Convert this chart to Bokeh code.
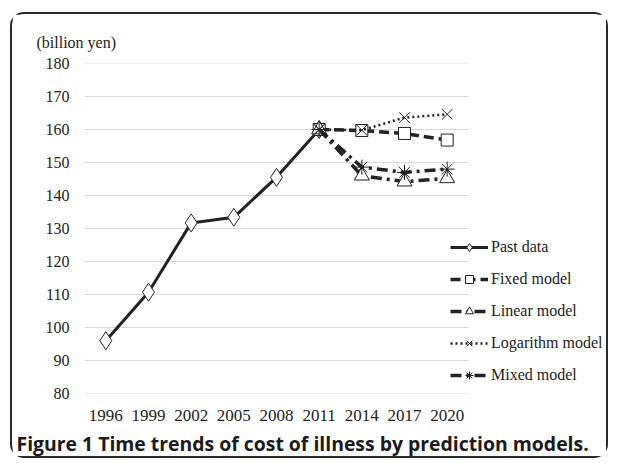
from bokeh.plotting import figure
from bokeh.models import Range1d, Legend, LegendItem, Title, FixedTicker
from bokeh.embed import file_html
from bokeh.resources import INLINE

years = ["1996", "1999", "2002", "2005", "2008", "2011", "2014", "2017", "2020"]
past_years = ["1996", "1999", "2002", "2005", "2008", "2011"]
past_values = [96.0, 110.7, 131.7, 133.4, 145.5, 160.0]
proj_years = ["2011", "2014", "2017", "2020"]
fixed_values = [160.0, 159.7, 158.8, 156.8]
linear_values = [160.0, 146.0, 144.2, 145.2]
log_values = [160.0, 159.8, 163.6, 164.6]
mixed_values = [160.0, 148.6, 147.0, 148.0]
y_ticks = [80, 90, 100, 110, 120, 130, 140, 150, 160, 170, 180]

SERIF = "Liberation Serif"
INK = "#222222"

W, H = 598, 446
BL, BR, BT, BB = 72, 0, 49, 67
frame_w = W - BL - BR
px_per_cat = 384 / len(years)
x_start = -0.5
x_end = x_start + frame_w / px_per_cat

def xi(labels):
    return [years.index(v) for v in labels]

p = figure(x_range=Range1d(x_start, x_end), y_range=Range1d(80, 180), width=W, height=H,
           output_backend="svg", toolbar_location=None,
           min_border_left=BL, min_border_right=BR, min_border_top=BT, min_border_bottom=BB)
p.styles = {"border": "2px solid #2a2a2a", "border-radius": "14px",
            "margin-left": "10px", "margin-top": "12px"}
p.outline_line_color = None
p.xgrid.grid_line_color = None
p.ygrid.grid_line_color = None

# horizontal gridlines limited to the category area
p.segment(x0=[x_start] * len(y_ticks), x1=[len(years) - 0.5] * len(y_ticks),
          y0=y_ticks, y1=y_ticks, line_color="#d9d9d9", line_width=1)

p.yaxis.ticker = FixedTicker(ticks=y_ticks)
p.xaxis.ticker = FixedTicker(ticks=list(range(len(years))))
p.xaxis.major_label_overrides = {i: y for i, y in enumerate(years)}
for ax in (p.xaxis[0], p.yaxis[0]):
    ax.axis_line_color = None
    ax.major_tick_line_color = None
    ax.minor_tick_line_color = None
    ax.major_tick_out = 0
    ax.major_tick_in = 0
    ax.minor_tick_out = 0
    ax.major_label_text_font = SERIF
    ax.major_label_text_color = INK
p.yaxis.major_label_text_font_size = "16px"
p.xaxis.major_label_text_font_size = "17px"
p.yaxis.major_label_standoff = 15
p.xaxis.major_label_standoff = 16

lw = 3
r_past_l = p.line(xi(past_years), past_values, line_color=INK, line_width=lw)
r_past_m = p.scatter(xi(past_years), past_values, marker="diamond", size=18,
                     fill_color="white", line_color=INK, line_width=1)
r_fix_l = p.line(xi(proj_years), fixed_values, line_color=INK, line_width=3.5, line_dash="10 5")
r_fix_m = p.scatter(xi(proj_years), fixed_values, marker="square", size=12,
                    fill_color="white", line_color=INK, line_width=1)
r_lin_l = p.line(xi(proj_years), linear_values, line_color=INK, line_width=3.5, line_dash="11 5 3 5")
r_lin_m = p.scatter(xi(proj_years), linear_values, marker="triangle", size=15,
                    fill_color="white", line_color=INK, line_width=1)
r_log_l = p.line(xi(proj_years), log_values, line_color=INK, line_width=2.5, line_dash="2 3")
r_log_m = p.scatter(xi(proj_years), log_values, marker="x", size=15,
                    line_color=INK, line_width=1)
r_mix_l = p.line(xi(proj_years), mixed_values, line_color=INK, line_width=3.5, line_dash="11 5 3 5")
r_mix_m = p.scatter(xi(proj_years), mixed_values, marker="asterisk", size=15,
                    line_color=INK, line_width=1)

legend = Legend(items=[
    LegendItem(label="Past data", renderers=[r_past_l, r_past_m]),
    LegendItem(label="Fixed model", renderers=[r_fix_l, r_fix_m]),
    LegendItem(label="Linear model", renderers=[r_lin_l, r_lin_m]),
    LegendItem(label="Logarithm model", renderers=[r_log_l, r_log_m]),
    LegendItem(label="Mixed model", renderers=[r_mix_l, r_mix_m]),
], location=(366, 8))
legend.background_fill_alpha = 0
legend.border_line_color = None
legend.padding = 0
legend.margin = 0
legend.spacing = 12
legend.glyph_width = 38
legend.glyph_height = 20
legend.label_standoff = 3
legend.label_text_font = SERIF
legend.label_text_font_size = "16px"
legend.label_text_color = INK
p.add_layout(legend, "center")

p.add_layout(Title(text="(billion yen)", align="left", offset=-48, standoff=26,
                   text_font=SERIF, text_font_size="16px", text_font_style="normal",
                   text_color=INK), "above")
p.add_layout(Title(text="Figure 1 Time trends of cost of illness by prediction models.",
                   align="left", offset=-68, standoff=8,
                   text_font="Open Sans", text_font_style="bold", text_font_size="19.4px",
                   text_color="#1a1a1a"), "below")

open("out.html", "w").write(file_html(p, INLINE))
